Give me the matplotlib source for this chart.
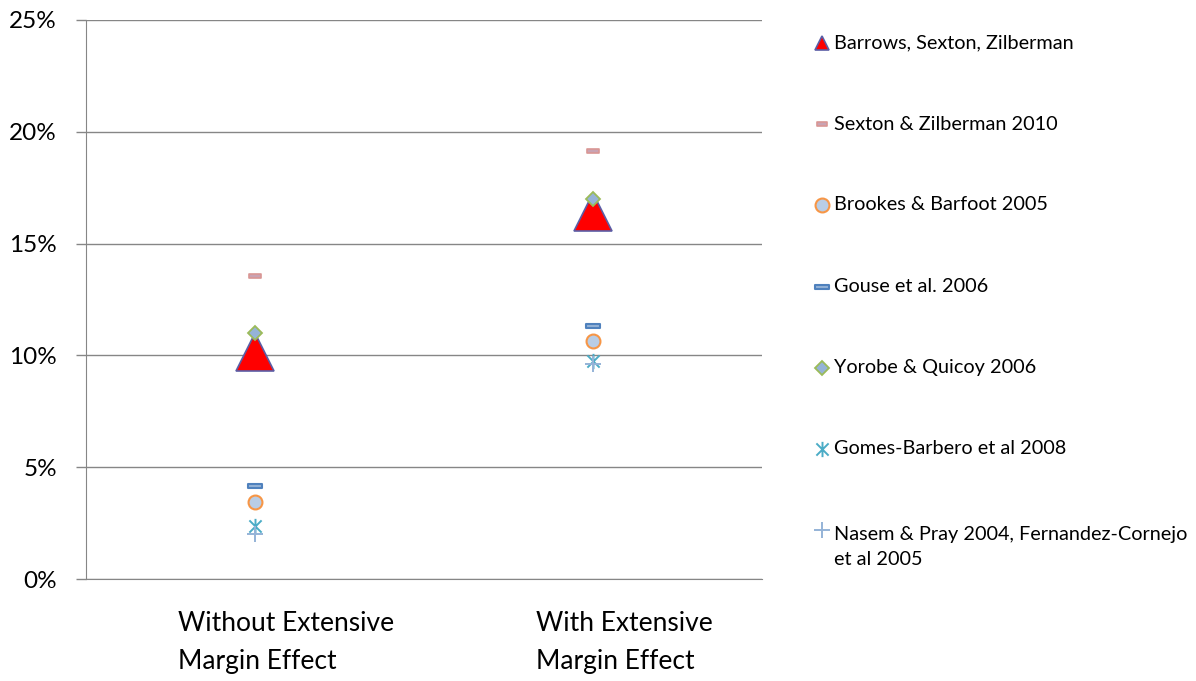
import numpy as np
import matplotlib.pyplot as plt
import matplotlib.transforms as mtransforms
from matplotlib.lines import Line2D
from matplotlib.path import Path
from matplotlib.ticker import PercentFormatter

plt.rcParams['font.family'] = ['Lato', 'DejaVu Sans']

# Data
categories = ['Without Extensive\nMargin Effect', 'With Extensive\nMargin Effect']
studies = ['Barrows, Sexton, Zilberman',
           'Sexton & Zilberman 2010',
           'Brookes & Barfoot 2005',
           'Gouse et al. 2006',
           'Yorobe & Quicoy 2006',
           'Gomes-Barbero et al 2008',
           'Nasem & Pray 2004, Fernandez-Cornejo\net al 2005']
barrows = [10.15, 16.4]
sexton = [13.55, 19.15]
brookes = [3.45, 10.65]
gouse = [4.15, 11.3]
yorobe = [11.0, 17.0]
gomes = [2.35, 9.75]
nasem = [2.0, 9.6]

# custom marker shapes
bar_mark = Path([(-1, -0.35), (1, -0.35), (1, 0.35), (-1, 0.35), (-1, -0.35)],
                [Path.MOVETO, Path.LINETO, Path.LINETO, Path.LINETO, Path.CLOSEPOLY])
star_mark = Path([(-0.8, -0.8), (0.8, 0.8), (-0.8, 0.8), (0.8, -0.8), (0, -1), (0, 1)],
                 [Path.MOVETO, Path.LINETO, Path.MOVETO, Path.LINETO, Path.MOVETO, Path.LINETO])

styles = [
    dict(marker='^', ms=27, mfc='#ff0000', mec='#5b5ea6', mew=1.2),
    dict(marker=bar_mark, ms=8, mfc='#c9a3b3', mec='#d99694', mew=1.2),
    dict(marker='o', ms=10, mfc='#b9cde5', mec='#f79646', mew=1.5),
    dict(marker=bar_mark, ms=10, mfc='#95b3d7', mec='#4f81bd', mew=1.5),
    dict(marker='D', ms=7, mfc='#95b3d7', mec='#9bbb59', mew=1.3),
    dict(marker=star_mark, ms=11, mfc='none', mec='#4bacc6', mew=1.4),
    dict(marker='+', ms=12, mfc='none', mec='#95b3d7', mew=1.4),
]
legend_ms = [10, 7, 10, 10, 7, 11, 12]
series = [barrows, sexton, brookes, gouse, yorobe, gomes, nasem]

fig = plt.figure(figsize=(11.96, 6.81), dpi=100)
ax = fig.add_axes([86 / 1196, 1 - 579 / 681, (762 - 86) / 1196, (579 - 20) / 681])

x = np.arange(len(categories))
for vals, st in zip(series, styles):
    ax.plot(x, vals, linestyle='none', zorder=3, **st)

ax.set_xlim(-0.5, 1.5)
ax.set_ylim(0, 25)
ax.set_yticks(np.arange(0, 26, 5))
ax.yaxis.set_major_formatter(PercentFormatter(decimals=0))
ax.grid(axis='y', color='#868686', linewidth=1)
ax.set_axisbelow(True)
for s in ['top', 'right']:
    ax.spines[s].set_visible(False)
ax.spines['left'].set_color('#868686')
ax.spines['bottom'].set_color('#868686')
ax.tick_params(axis='y', length=7, width=1, color='#868686', labelsize=17.5, pad=14)
ax.tick_params(axis='x', length=0, labelsize=19, pad=23)
ax.set_xticks(x)
ax.set_xticklabels(categories, multialignment='left', linespacing=1.65)
# category labels sit a little to the right of the markers
shift = mtransforms.ScaledTranslation(0.31, 0, fig.dpi_scale_trans)
for lbl in ax.get_xticklabels():
    lbl.set_transform(lbl.get_transform() + shift)

# legend drawn row by row on the right
row_y = [43, 124, 205, 287, 368, 449, 530]
for lab, st, lms, ry in zip(studies, styles, legend_ms, row_y):
    yf = 1 - ry / 681
    kw = dict(st)
    kw['ms'] = lms
    fig.add_artist(Line2D([822 / 1196], [yf], transform=fig.transFigure, linestyle='none', **kw))
    if '\n' in lab:
        fig.text(834 / 1196, yf + 4 / 681, lab, fontsize=14.3, va='top', ha='left', linespacing=1.6)
    else:
        fig.text(834 / 1196, yf, lab, fontsize=14.3, va='center', ha='left')

fig.savefig('out.png', dpi=100)
